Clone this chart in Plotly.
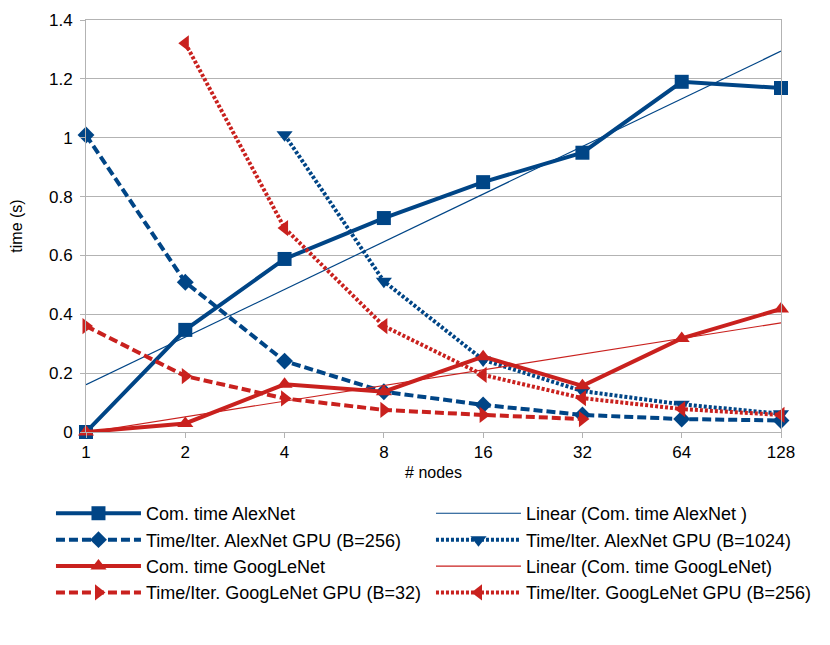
import numpy as np
import plotly.graph_objects as go

nodes = [1, 2, 4, 8, 16, 32, 64, 128]
tick_labels = ["1", "2", "4", "8", "16", "32", "64", "128"]

com_alexnet = [0.0, 0.347, 0.588, 0.727, 0.849, 0.949, 1.19, 1.169]
com_googlenet = [0.0, 0.029, 0.162, 0.137, 0.256, 0.157, 0.318, 0.418]

alex_gpu256_nodes = [1, 2, 4, 8, 16, 32, 64, 128]
alex_gpu256 = [1.009, 0.509, 0.241, 0.137, 0.092, 0.058, 0.044, 0.039]

alex_gpu1024_nodes = [4, 8, 16, 32, 64, 128]
alex_gpu1024 = [1.01, 0.512, 0.245, 0.139, 0.094, 0.062]

goog_gpu32_nodes = [1, 2, 4, 8, 16, 32]
goog_gpu32 = [0.36, 0.19, 0.114, 0.075, 0.058, 0.044]

goog_gpu256_nodes = [2, 4, 8, 16, 32, 64, 128]
goog_gpu256 = [1.321, 0.693, 0.36, 0.194, 0.115, 0.078, 0.058]

BLUE = "#004586"
RED = "#c9211e"
FONT = "Liberation Sans"


def linear_trend(xs, ys):
    # LibreOffice linear trend line over category index (log2 of nodes)
    idx = np.log2(np.array(xs, dtype=float))
    slope, intercept = np.polyfit(idx, np.array(ys, dtype=float), 1)
    return list(intercept + slope * idx)


fig = go.Figure()

fig.add_trace(go.Scatter(
    x=nodes, y=com_alexnet, name="Com. time AlexNet", mode="lines+markers",
    line=dict(color=BLUE, width=4), marker=dict(symbol="square", size=14, color=BLUE)))
fig.add_trace(go.Scatter(
    x=nodes, y=linear_trend(nodes, com_alexnet), name="Linear (Com. time AlexNet )",
    mode="lines", line=dict(color=BLUE, width=1.2)))
fig.add_trace(go.Scatter(
    x=alex_gpu256_nodes, y=alex_gpu256, name="Time/Iter. AlexNet GPU (B=256)",
    mode="lines+markers", line=dict(color=BLUE, width=4, dash="9px,4px"),
    marker=dict(symbol="diamond", size=13, color=BLUE)))
fig.add_trace(go.Scatter(
    x=alex_gpu1024_nodes, y=alex_gpu1024, name="Time/Iter. AlexNet GPU (B=1024)",
    mode="lines+markers", line=dict(color=BLUE, width=4, dash="3px,2px"),
    marker=dict(symbol="triangle-down", size=14, color=BLUE)))
fig.add_trace(go.Scatter(
    x=nodes, y=com_googlenet, name="Com. time GoogLeNet", mode="lines+markers",
    line=dict(color=RED, width=4), marker=dict(symbol="triangle-up", size=14, color=RED)))
fig.add_trace(go.Scatter(
    x=nodes, y=linear_trend(nodes, com_googlenet), name="Linear (Com. time GoogLeNet)",
    mode="lines", line=dict(color=RED, width=1.2)))
fig.add_trace(go.Scatter(
    x=goog_gpu32_nodes, y=goog_gpu32, name="Time/Iter. GoogLeNet GPU (B=32)",
    mode="lines+markers", line=dict(color=RED, width=4, dash="9px,4px"),
    marker=dict(symbol="triangle-right", size=14, color=RED)))
fig.add_trace(go.Scatter(
    x=goog_gpu256_nodes, y=goog_gpu256, name="Time/Iter. GoogLeNet GPU (B=256)",
    mode="lines+markers", line=dict(color=RED, width=4, dash="3px,2px"),
    marker=dict(symbol="triangle-left", size=14, color=RED)))

fig.update_traces(cliponaxis=False)

fig.update_layout(
    width=830, height=645,
    margin=dict(l=78, r=57, t=12, b=221, autoexpand=False),
    paper_bgcolor="white", plot_bgcolor="white",
    font=dict(family=FONT, size=17, color="#000000"),
    showlegend=True,
    legend=dict(
        orientation="h", xref="paper", yref="paper",
        x=-0.0504, y=-0.153, xanchor="left", yanchor="top",
        entrywidth=280, entrywidthmode="pixels", itemwidth=85,
        font=dict(family=FONT, size=18, color="#000000"),
        tracegroupgap=0,
    ),
    xaxis=dict(
        type="log", range=[0, np.log10(128)], automargin=False,
        tickmode="array", tickvals=nodes, ticktext=tick_labels,
        showgrid=False, showline=True, linecolor="#b3b3b3", linewidth=1,
        mirror=True, ticks="outside", ticklen=5, tickcolor="#b3b3b3",
        zeroline=False,
        title=dict(text="# nodes", font=dict(family=FONT, size=16), standoff=5),
    ),
    yaxis=dict(
        range=[0, 1.4], dtick=0.2, tick0=0, automargin=False,
        showgrid=True, gridcolor="#b3b3b3", gridwidth=1,
        showline=True, linecolor="#b3b3b3", linewidth=1, mirror=True,
        ticks="outside", ticklen=5, tickcolor="#b3b3b3",
        zeroline=False, ticklabelstandoff=4,
        title=dict(text="time (s)", font=dict(family=FONT, size=16), standoff=24),
    ),
)

fig.write_html("out.html")
